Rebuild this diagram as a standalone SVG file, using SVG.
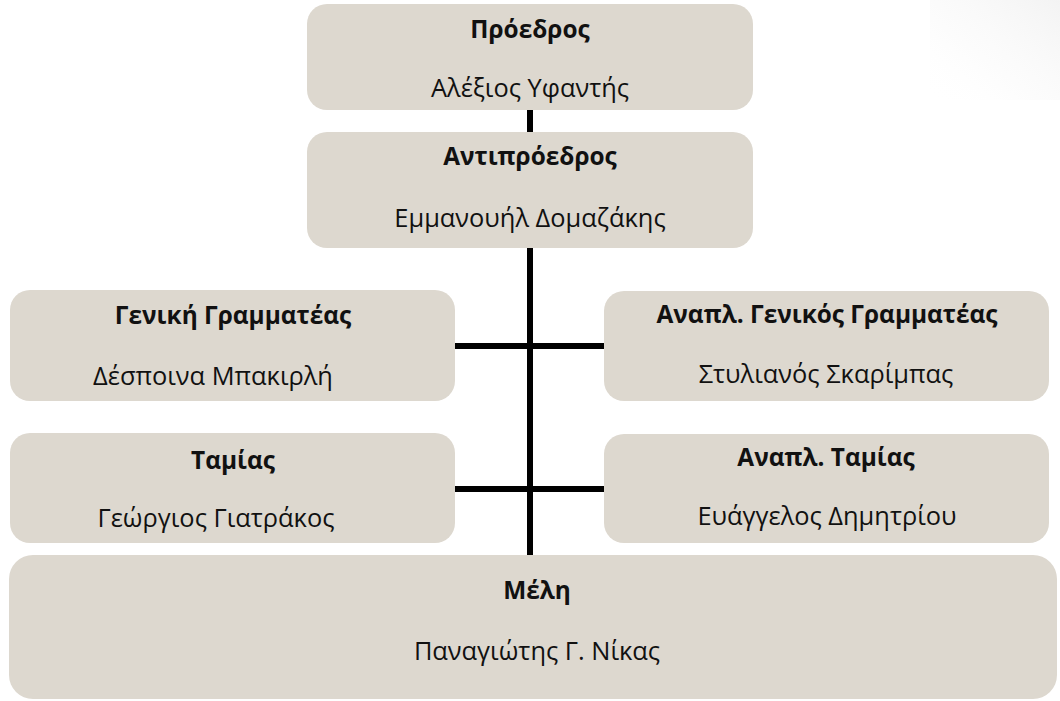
<svg xmlns="http://www.w3.org/2000/svg" width="1060" height="701" viewBox="0 0 1060 701">
  <defs>
    <style>
      .box { fill: #ddd8cf; }
      .title { font-family: "Open Sans", "Liberation Sans", sans-serif; font-weight: bold; font-size: 24.4px; fill: #111; text-anchor: middle; }
      .name { font-family: "Open Sans", "Liberation Sans", sans-serif; font-size: 25.4px; fill: #111; text-anchor: middle; }
      .conn { stroke: #000; stroke-width: 6; fill: none; }
    </style>
    <linearGradient id="fade" x1="1" y1="0" x2="0" y2="1">
      <stop offset="0" stop-color="#f0f0f0" stop-opacity="0.8"/>
      <stop offset="0.6" stop-color="#f8f8f8" stop-opacity="0.4"/>
      <stop offset="1" stop-color="#ffffff" stop-opacity="0"/>
    </linearGradient>
  </defs>
  <rect x="0" y="0" width="1060" height="701" fill="#fff"/>
  <rect x="930" y="0" width="130" height="100" fill="url(#fade)"/>

  <g id="connectors">
    <line class="conn" x1="530" y1="108" x2="530" y2="134"/>
    <line class="conn" x1="530" y1="246" x2="530" y2="557"/>
    <line class="conn" x1="453" y1="346" x2="606" y2="346"/>
    <line class="conn" x1="453" y1="489" x2="606" y2="489"/>
  </g>

  <g id="president">
    <rect class="box" x="307" y="4" width="446" height="106" rx="20"/>
    <text class="title" x="530" y="38">Πρόεδρος</text>
    <text class="name" x="530" y="97">Αλέξιος Υφαντής</text>
  </g>
  <g id="vice-president">
    <rect class="box" x="307" y="132" width="446" height="116" rx="20"/>
    <text class="title" x="530" y="165">Αντιπρόεδρος</text>
    <text class="name" x="530" y="227">Εμμανουήλ Δομαζάκης</text>
  </g>
  <g id="general-secretary">
    <rect class="box" x="10" y="290" width="445" height="111" rx="20"/>
    <text class="title" x="233" y="324">Γενική Γραμματέας</text>
    <text class="name" x="213" y="385">Δέσποινα Μπακιρλή</text>
  </g>
  <g id="deputy-general-secretary">
    <rect class="box" x="604" y="291" width="445" height="110" rx="20"/>
    <text class="title" x="827" y="323">Αναπλ. Γενικός Γραμματέας</text>
    <text class="name" x="826" y="383">Στυλιανός Σκαρίμπας</text>
  </g>
  <g id="treasurer">
    <rect class="box" x="10" y="433" width="445" height="110" rx="20"/>
    <text class="title" x="233" y="469">Ταμίας</text>
    <text class="name" x="216" y="527">Γεώργιος Γιατράκος</text>
  </g>
  <g id="deputy-treasurer">
    <rect class="box" x="604" y="434" width="445" height="109" rx="20"/>
    <text class="title" x="826" y="466">Αναπλ. Ταμίας</text>
    <text class="name" x="827" y="525">Ευάγγελος Δημητρίου</text>
  </g>
  <g id="members">
    <rect class="box" x="9" y="555" width="1048" height="144" rx="24"/>
    <text class="title" x="537" y="599">Μέλη</text>
    <text class="name" x="537" y="660">Παναγιώτης Γ. Νίκας</text>
  </g>
</svg>
